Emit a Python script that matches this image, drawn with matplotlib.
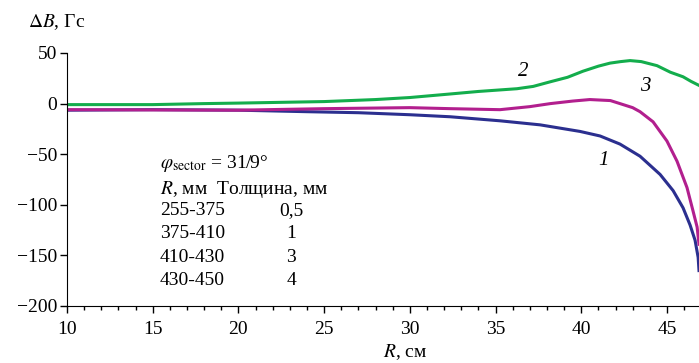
import matplotlib as mpl
mpl.use('Agg')
import matplotlib.pyplot as plt
plt.rcParams['font.family'] = ['Liberation Serif', 'DejaVu Serif']
plt.rcParams['mathtext.fontset'] = 'stix'  # Times-like math

# кривая 1 (синяя)
x1 = [10, 15, 20, 24, 27, 30, 32.35, 35.26, 37.6, 39.93, 41.1, 42.26, 43.43, 44.6,
      45.36, 45.94, 46.35, 46.64, 46.82, 46.87]
y1 = [-6.5, -6, -6.5, -8, -9, -11, -13, -17, -21, -27.5, -32, -40, -52, -70,
      -86, -103, -120, -135, -152, -165]
# кривая 2 (зелёная)
x2 = [10, 15, 18, 20, 25, 28, 30, 32.35, 34, 36.25, 37.2, 38.18, 39.2, 40.1, 41.0,
      41.68, 42.3, 42.85, 43.5, 44.42, 45.2, 45.94, 46.4, 46.87]
y2 = [-1, -1, 0, 0.5, 2, 4, 6, 9.5, 12, 14.7, 17, 21.5, 26, 32, 37,
      40, 41.5, 42.5, 41.5, 37.5, 31, 26.5, 22, 18]
# кривая 3 (пурпурная)
x3 = [10, 20, 25, 30, 32.35, 35.26, 37, 38.2, 39.5, 40.5, 41.1, 41.7, 42.26, 43.0,
      43.43, 44.19, 45.0, 45.59, 46.17, 46.52, 46.76, 46.87]
y3 = [-6, -6.5, -5, -4, -5, -6, -3, 0, 2.5, 4, 3.5, 3, 0, -4,
      -8, -18, -37, -57, -83, -106, -122, -139]

xticks = [10, 15, 20, 25, 30, 35, 40, 45]
yticks = [-200, -150, -100, -50, 0, 50]

table_rows = ['255-375', '375-410', '410-430', '430-450']
table_vals = ['0,5', '1', '3', '4']

fig = plt.figure(figsize=(6.99, 3.63), dpi=100)
ax = fig.add_axes([67/699, 57/363, 632/699, 253/363])

ax.plot(x1, y1, color='#2b2f8f', lw=2.2)
ax.plot(x3, y3, color='#b21f8e', lw=2.2)
ax.plot(x2, y2, color='#13ad4c', lw=2.2)

ax.set_xlim(10, 46.87)
ax.set_ylim(-200, 50)
ax.spines['top'].set_visible(False)
ax.spines['right'].set_visible(False)
ax.set_xticks(xticks)
ax.set_xticks(range(10, 47), minor=True)
ax.set_yticks(yticks)
ax.set_yticklabels(['\u2212200', '\u2212150', '\u2212100', '\u221250', '0', '50'])
ax.tick_params(axis='both', labelsize=14, direction='out', length=5, width=1)
ax.tick_params(axis='x', which='minor', length=3, width=1)
ax.tick_params(axis='x', pad=6)
ax.tick_params(axis='y', pad=2)

# подписи кривых
ax.text(36.6, 32, '2', fontsize=15, style='italic', ha='center', va='center')
ax.text(43.72, 16.5, '3', fontsize=15, style='italic', ha='center', va='center')
ax.text(41.27, -56, '1', fontsize=15, style='italic', ha='center', va='center')

# таблица
ax.text(15.43, -58.8, r'$\varphi_{\rm sector}$ = 31/9°', fontsize=14, va='center')
ax.text(15.43, -85, r'$R$, мм  Толщина, мм', fontsize=14, va='center')
for i in range(len(table_rows)):
    yy = -106 - 22.8 * i
    ax.text(15.43, yy, table_rows[i], fontsize=14, va='center')
    ax.text(23.07, yy, table_vals[i], fontsize=14, va='center', ha='center')

fig.text(28/699, 1 - 22/363, r'$\Delta B$, Гс', fontsize=14, va='center')
fig.text(383/699, 1 - 352/363, r'$R$, см', fontsize=14, va='center')

fig.savefig('out.png', dpi=100)
